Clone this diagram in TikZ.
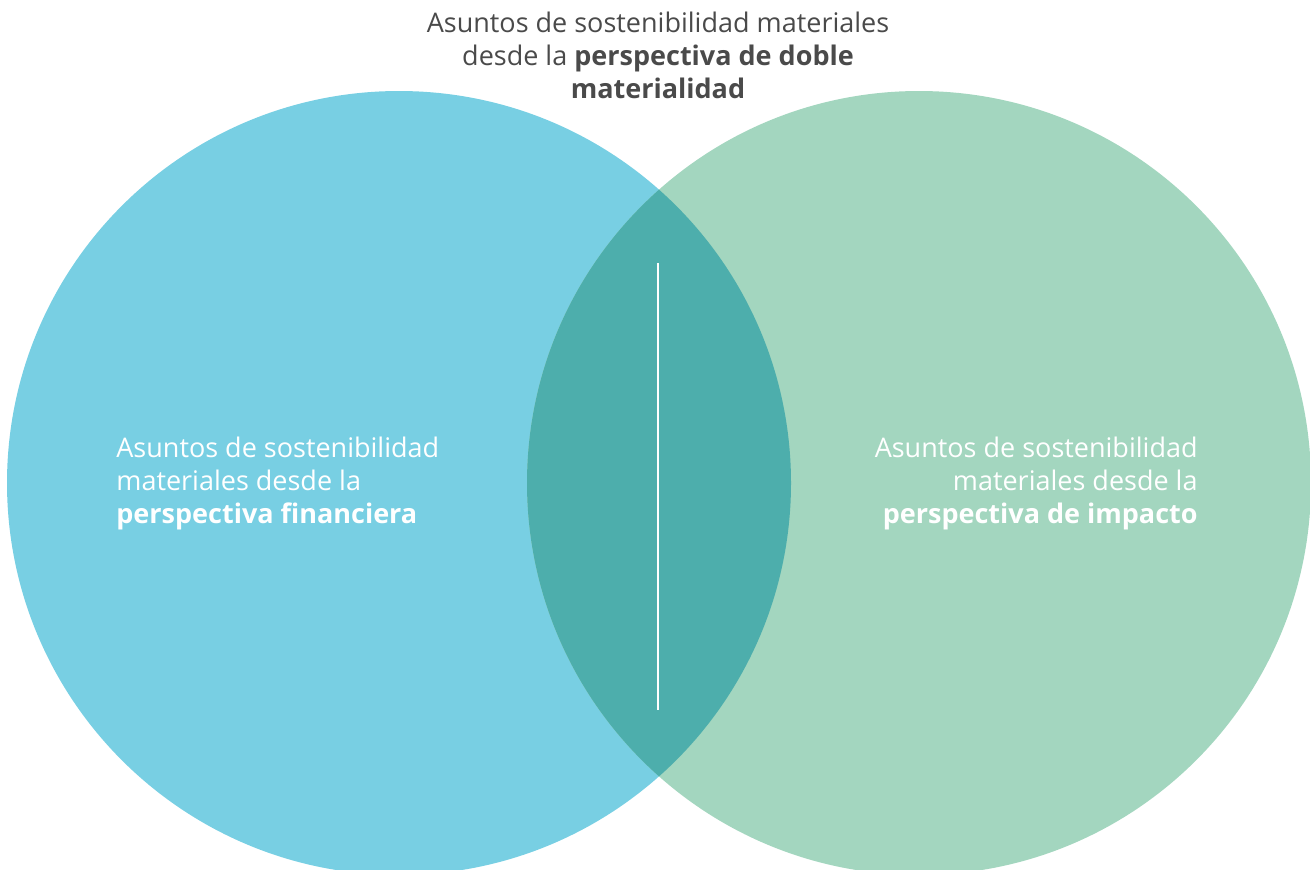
\documentclass[tikz,border=0pt]{standalone}
\usepackage{fontspec}
\setmainfont{Open Sans}
\definecolor{azul}{HTML}{78CFE3}
\definecolor{verde}{HTML}{A3D6BF}
\definecolor{cruce}{HTML}{4DAEAC}
\definecolor{gris}{HTML}{4A4A4A}

\begin{document}
\begin{tikzpicture}[x=0.5pt,y=-0.5pt,
    texto/.style={font=\fontsize{13.5}{16.5}\selectfont, inner sep=0pt}]
    % Parametros
    \def\r{196pt}    % Radio de los circulos
    \def\cy{483}     % Altura de los centros

    \useasboundingbox (0,0) rectangle (1310,869);

    % Circulos
    \coordinate (izq) at (399,\cy);
    \coordinate (der) at (919,\cy);
    \fill[azul] (izq) circle[radius=\r];
    \fill[verde] (der) circle[radius=\r];

    % Interseccion
    \begin{scope}
        \clip (izq) circle[radius=\r];
        \fill[cruce] (der) circle[radius=\r];
    \end{scope}

    % Linea central
    \coordinate (arriba) at (658,263);
    \coordinate (abajo) at (658,710);
    \draw[white, line width=1pt] (arriba) -- (abajo);

    % Textos
    \node[texto, text=gris, align=center] (titulo) at (658,55)
        {Asuntos de sostenibilidad materiales\\
         desde la \textbf{perspectiva de doble}\\
         \textbf{materialidad}};
    \node[texto, text=white, align=left, anchor=west] (financiera) at (116,\cy)
        {Asuntos de sostenibilidad\\
         materiales desde la\\
         \textbf{perspectiva financiera}};
    \node[texto, text=white, align=right, anchor=east] (impacto) at (1198,\cy)
        {Asuntos de sostenibilidad\\
         materiales desde la\\
         \textbf{perspectiva de impacto}};
\end{tikzpicture}
\end{document}
